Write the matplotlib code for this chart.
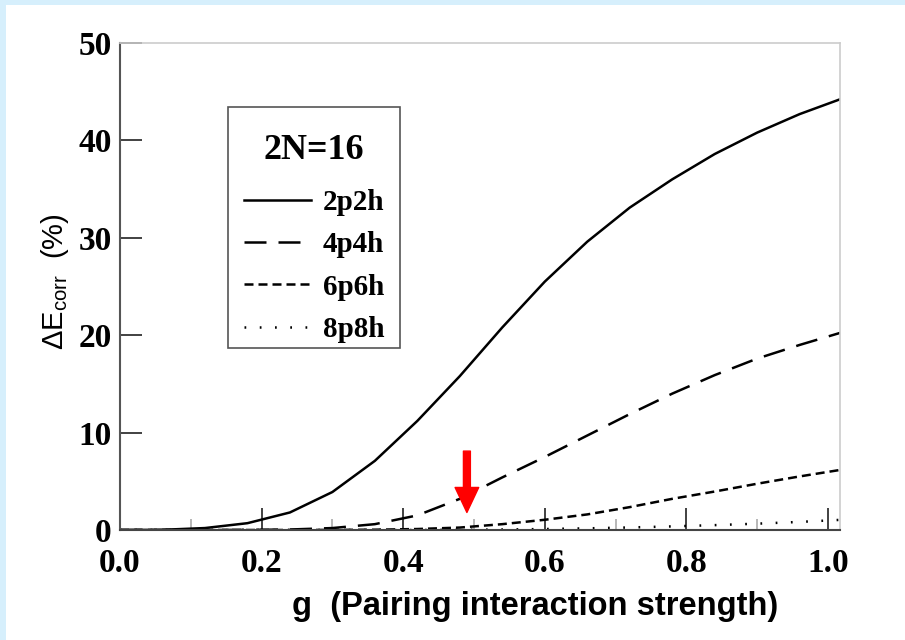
"""Correlation energy fraction vs pairing strength (2N=16)."""

import matplotlib

matplotlib.use("Agg")
import matplotlib.pyplot as plt
from matplotlib.patches import Rectangle
from matplotlib.ticker import MultipleLocator

# data
g = [0.00, 0.06, 0.12, 0.18, 0.24, 0.30, 0.36, 0.42, 0.48,
     0.54, 0.60, 0.66, 0.72, 0.78, 0.84, 0.90, 0.96, 1.02]
e_2p2h = [0.0, 0.02, 0.2, 0.7, 1.8, 3.9, 7.1, 11.2, 15.8,
          20.8, 25.5, 29.6, 33.1, 36.0, 38.6, 40.8, 42.7, 44.3]
e_4p4h = [0.0, 0.0, 0.0, 0.01, 0.05, 0.2, 0.6, 1.5, 3.2,
          5.4, 7.5, 9.7, 11.9, 14.0, 15.9, 17.6, 19.0, 20.3]
e_6p6h = [0.0, 0.0, 0.0, 0.0, 0.0, 0.01, 0.03, 0.1, 0.25,
          0.6, 1.05, 1.6, 2.35, 3.2, 3.95, 4.75, 5.5, 6.2]
e_8p8h = [0.0, 0.0, 0.0, 0.0, 0.0, 0.0, 0.0, 0.0, 0.02,
          0.05, 0.1, 0.17, 0.26, 0.37, 0.5, 0.65, 0.83, 1.05]

labels = ["2p2h", "4p4h", "6p6h", "8p8h"]
arrow_g = 0.49
arrow_from, arrow_to = 8.1, 1.8

SERIF = "Liberation Serif"
SANS = "Liberation Sans"

fig = plt.figure(figsize=(9.05, 6.4), dpi=100)
fig.patch.set_facecolor("#d6effc")
fig.patches.append(Rectangle((6 / 905, 0), 1, 1 - 5 / 640, transform=fig.transFigure,
                             facecolor="white", edgecolor="none", zorder=-10))

ax = fig.add_axes([120 / 905, 110 / 640, 720 / 905, 487 / 640])

lw = 1.8
ax.plot(g, e_2p2h, color="black", lw=lw, linestyle="-", label=labels[0])
ax.plot(g, e_4p4h, color="black", lw=lw, linestyle=(0, (8.8, 4.8)), label=labels[1])
ax.plot(g, e_6p6h, color="black", lw=lw, linestyle=(0, (3.6, 2.0)), label=labels[2])
ax.plot(g, e_8p8h, color="black", lw=1.8, linestyle=(0, (0.7, 5.4)), label=labels[3])

ax.annotate("", xy=(arrow_g, arrow_to), xytext=(arrow_g, arrow_from),
            arrowprops=dict(arrowstyle="simple,head_width=1.7,head_length=1.8,tail_width=0.5",
                            mutation_scale=10, color="red", shrinkA=0, shrinkB=0))

ax.set_xlim(0, 1.017)
ax.set_ylim(0, 50)
ax.xaxis.set_minor_locator(MultipleLocator(0.1))
ax.set_xticks([0.0, 0.2, 0.4, 0.6, 0.8, 1.0])
ax.set_xticklabels(["0.0", "0.2", "0.4", "0.6", "0.8", "1.0"])
ax.set_yticks([0, 10, 20, 30, 40, 50])
ax.set_yticklabels(["0", "10", "20", "30", "40", "50"])

ax.tick_params(axis="both", which="major", direction="in", length=16, width=1.3,
               color="#333333")
ax.tick_params(axis="y", which="major", pad=6)
ax.tick_params(axis="x", which="major", pad=13)
ax.tick_params(axis="x", which="minor", direction="in", length=8, width=1.2,
               color="#aaaaaa")
for lab in ax.get_xticklabels() + ax.get_yticklabels():
    lab.set_fontfamily(SERIF)
    lab.set_fontweight("bold")
    lab.set_fontsize(24)

ax.spines["left"].set_color("#555555")
ax.spines["bottom"].set_color("#444444")
ax.spines["left"].set_linewidth(1.5)
ax.spines["bottom"].set_linewidth(1.5)
for side in ("top", "right"):
    ax.spines[side].set_color("#cccccc")
    ax.spines[side].set_linewidth(1.2)

# legend box drawn separately so its padding can match the reference
ax.add_patch(Rectangle((0.15, 0.3737), 0.2389, 0.4949, transform=ax.transAxes,
                       facecolor="white", edgecolor="#555555", lw=1.2, zorder=4))
leg = ax.legend(loc="upper left", bbox_to_anchor=(0.15, 0.846), borderaxespad=0,
                title="2N=16", frameon=False,
                handlelength=2.3, handletextpad=0.4, labelspacing=0.52,
                borderpad=0.55, prop=dict(family=SERIF, weight="bold", size=21),
                title_fontproperties=dict(family=SERIF, weight="bold", size=26))
leg.set_zorder(5)
leg._legend_box.sep = 16

fig.text(535 / 905, 1 - 607 / 640, "g  (Pairing interaction strength)",
         family=SANS, weight="bold", fontsize=23.5, ha="center", va="center")
fig.text(55 / 905, 1 - 282 / 640, "\u0394E$_{\\mathregular{corr}}$  (%)",
         family=SANS, fontsize=21, rotation=90, ha="center", va="center")

fig.savefig("out.png", dpi=100)
